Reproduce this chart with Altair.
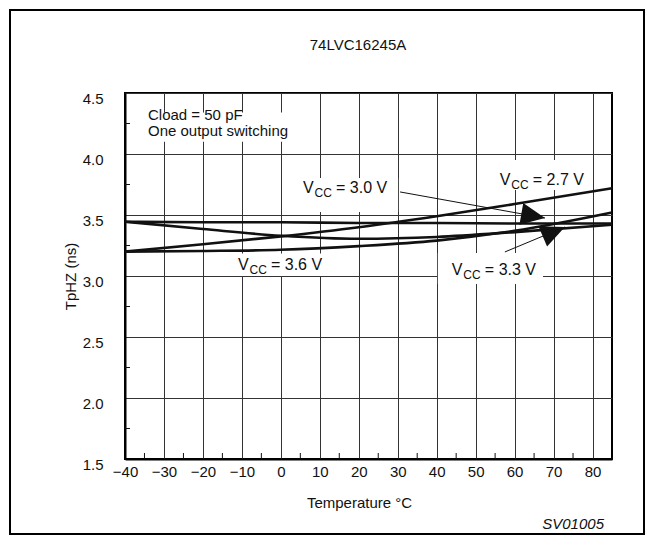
import altair as alt
import pandas as pd

FONT = "Liberation Sans"
INK = "#111111"

# ---- data ----
temps = [-40, -20, 0, 20, 40, 60, 85]
vcc27 = [3.20, 3.26, 3.325, 3.40, 3.49, 3.59, 3.72]
vcc30 = [3.445, 3.44, 3.44, 3.435, 3.435, 3.43, 3.43]
vcc33 = [3.445, 3.385, 3.33, 3.305, 3.32, 3.36, 3.42]
vcc36 = [3.20, 3.205, 3.215, 3.245, 3.29, 3.37, 3.52]

x_ticks = [-40, -30, -20, -10, 0, 10, 20, 30, 40, 50, 60, 70, 80]
x_minor = [-35, -25, -15, -5, 5, 15, 25, 35, 45, 55, 65, 75]
y_ticks = [1.5, 2.0, 2.5, 3.0, 3.5, 4.0, 4.5]
y_minor = [1.75, 2.25, 2.75, 3.25, 3.75, 4.25]

# labels: series name, anchor (temp, value)
label_names = ["2.7", "3.0", "3.3", "3.6"]
label_t = [56.2, 5.7, 43.9, -11.0]
label_v = [3.746, 3.680, 3.008, 3.049]
# white boxes behind labels (temp range, value range)
box_t1 = [55.0, 4.4, 40.3, -12.5, -35.6]
box_t2 = [78.8, 30.1, 67.3, 12.6, 4.9]
box_v1 = [3.705, 3.525, 2.934, 3.0, 4.10]
box_v2 = [3.951, 3.803, 3.189, 3.185, 4.34]

# arrows (3.0 V and 3.3 V)
arrow_names = ["3.0", "3.3"]
arrow_start_t = [30.6, 57.5]
arrow_start_v = [3.689, 3.197]
arrow_tip_t = [67.8, 72.9]
arrow_tip_v = [3.475, 3.402]
arrow_angle = [100, 67]

note_lines = ["Cload = 50 pF", "One output switching"]
note_t = [-34.1, -34.1]
note_v = [4.279, 4.148]

# ---- tables ----
rows = []
for name, vals in [("2.7", vcc27), ("3.0", vcc30), ("3.3", vcc33), ("3.6", vcc36)]:
    for t, v in zip(temps, vals):
        rows.append({"series": name, "temp": t, "value": v})
df = pd.DataFrame(rows)

lab_df = pd.DataFrame({"name": label_names, "temp": label_t, "value": label_v,
                       "rest": ["= " + n + " V" for n in label_names]})
box_df = pd.DataFrame({"t1": box_t1, "t2": box_t2, "v1": box_v1, "v2": box_v2})
shaft_rows = []
for n, t0, v0, t1, v1 in zip(arrow_names, arrow_start_t, arrow_start_v, arrow_tip_t, arrow_tip_v):
    shaft_rows.append({"arrow": n, "temp": t0, "value": v0, "o": 0})
    shaft_rows.append({"arrow": n, "temp": t1, "value": v1, "o": 1})
shaft_df = pd.DataFrame(shaft_rows)
tip_df = pd.DataFrame({"arrow": arrow_names, "temp": arrow_tip_t, "value": arrow_tip_v, "ang": arrow_angle})
note_df = pd.DataFrame({"text": note_lines, "temp": note_t, "value": note_v})
xm_df = pd.DataFrame({"temp": x_minor})
ym_df = pd.DataFrame({"value": y_minor})

xs = alt.Scale(domain=[-40, 85], nice=False, zero=False)
ys = alt.Scale(domain=[1.5, 4.5], nice=False, zero=False)

x_axis = alt.Axis(values=x_ticks, format="d", grid=True, ticks=False, labelPadding=5,
                  labelFlush=False, labelOverlap=False, labelBound=False,
                  title="Temperature °C", titleX=234, titleY=43, titleBaseline="middle",
                  titleAlign="center")
y_axis = alt.Axis(values=y_ticks, format=".1f", grid=True, ticks=False, labelPadding=22,
                  labelOffset=5, labelFlush=False, labelOverlap=False,
                  title="TpHZ (ns)", titleX=-55, titleY=183,
                  titleBaseline="middle", titleAlign="center", titleAngle=270)


def X(f="temp:Q"):
    return alt.X(f, scale=xs, axis=x_axis)


def Y(f="value:Q"):
    return alt.Y(f, scale=ys, axis=y_axis)


boxes = alt.Chart(box_df).mark_rect(fill="white").encode(
    x=X("t1:Q"), x2="t2:Q", y=Y("v1:Q"), y2="v2:Q")

xminor = alt.Chart(xm_df).mark_rule(color=INK, strokeWidth=1).encode(
    x=X(), y=alt.value(366), y2=alt.value(360))
yminor = alt.Chart(ym_df).mark_rule(color=INK, strokeWidth=1).encode(
    y=Y(), x=alt.value(0), x2=alt.value(5))

lines = alt.Chart(df).mark_line(color=INK, strokeWidth=2.6, interpolate="monotone").encode(
    x=X(), y=Y(), detail="series:N")

shafts = alt.Chart(shaft_df).mark_line(color=INK, strokeWidth=1).encode(
    x=X(), y=Y(), detail="arrow:N", order="o:Q")

tips = alt.Chart(tip_df).mark_point(shape="M0,0L0.46,1L-0.46,1Z", size=2304, filled=True,
                                    color=INK, opacity=1, strokeWidth=0).encode(
    x=X(), y=Y(), angle=alt.Angle("ang:Q", scale=None))

lab_v = alt.Chart(lab_df).mark_text(font=FONT, fontSize=16, align="left", baseline="alphabetic",
                                    color=INK).encode(x=X(), y=Y(), text=alt.value("V"))
lab_cc = alt.Chart(lab_df).mark_text(font=FONT, fontSize=12, align="left", baseline="alphabetic",
                                     color=INK, dx=11.5, dy=4).encode(x=X(), y=Y(), text=alt.value("CC"))
lab_rest = alt.Chart(lab_df).mark_text(font=FONT, fontSize=16, align="left", baseline="alphabetic",
                                       color=INK, dx=33).encode(x=X(), y=Y(), text="rest:N")

notes = alt.Chart(note_df).mark_text(font=FONT, fontSize=15, align="left", baseline="alphabetic",
                                     color=INK).encode(x=X(), y=Y(), text="text:N")

one = pd.DataFrame({"a": [0]})
title = alt.Chart(one).mark_text(font=FONT, fontSize=15, align="center", baseline="middle",
                                 color=INK).encode(x=alt.value(233), y=alt.value(-48),
                                                   text=alt.value("74LVC16245A"))
code = alt.Chart(one).mark_text(font=FONT, fontSize=15, fontStyle="italic", align="right",
                                baseline="middle", color=INK).encode(
    x=alt.value(479), y=alt.value(431), text=alt.value("SV01005"))
border = alt.Chart(one).mark_rect(fill="white", fillOpacity=0, stroke="black", strokeWidth=2).encode(
    x=alt.value(-115), x2=alt.value(519), y=alt.value(-83), y2=alt.value(441))

chart = alt.layer(boxes, xminor, yminor, lines, shafts, tips, lab_v, lab_cc, lab_rest, notes,
                  title, code, border).properties(
    width=487, height=366,
    autosize=alt.AutoSizeParams(type="none"),
    padding={"left": 117, "top": 85, "right": 34, "bottom": 77},
    background="white",
).configure_view(stroke="black", strokeWidth=2).configure_axis(
    labelFont=FONT, labelFontSize=15, labelColor=INK,
    titleFont=FONT, titleFontSize=15, titleFontWeight="normal", titleColor=INK,
    gridColor="#333333", gridWidth=1, gridOpacity=1,
    domainColor="black", domainWidth=2,
)

chart.save("out.html", embed_options={"renderer": "svg", "actions": False})
